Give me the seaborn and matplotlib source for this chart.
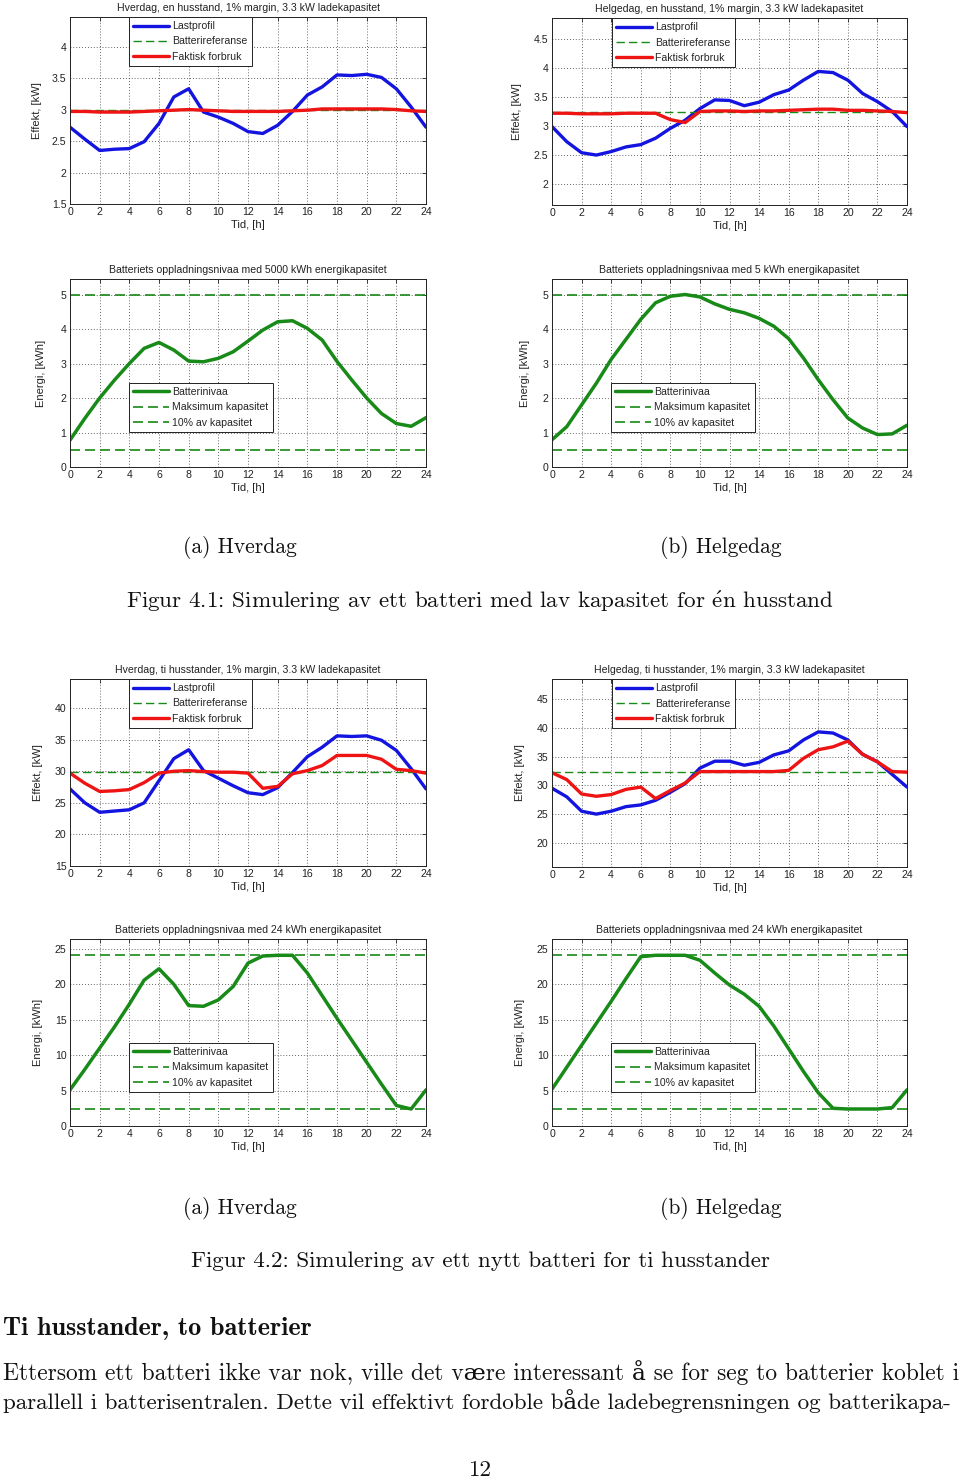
import matplotlib
matplotlib.use("Agg")
import matplotlib.pyplot as plt
import seaborn as sns
import pandas as pd
from matplotlib.ticker import FormatStrFormatter, MultipleLocator

# ---------------- data ----------------
hours = list(range(25))

# Fig 4.1 (a) Hverdag, en husstand
p1_last = [2.72, 2.53, 2.35, 2.37, 2.38, 2.49, 2.78, 3.20, 3.33, 2.96, 2.88, 2.78, 2.65,
           2.62, 2.75, 2.97, 3.23, 3.36, 3.55, 3.54, 3.56, 3.51, 3.33, 3.04, 2.72]
p1_fakt = [2.97, 2.97, 2.96, 2.96, 2.96, 2.97, 2.98, 2.99, 3.00, 2.99, 2.98, 2.97, 2.97,
           2.97, 2.97, 2.98, 2.99, 3.01, 3.01, 3.01, 3.01, 3.01, 3.00, 2.98, 2.97]
p1_ref = 2.99

# Fig 4.1 (b) Helgedag, en husstand
p2_last = [2.99, 2.73, 2.54, 2.50, 2.56, 2.64, 2.68, 2.79, 2.96, 3.10, 3.30, 3.45, 3.44,
           3.35, 3.41, 3.54, 3.62, 3.79, 3.94, 3.92, 3.79, 3.56, 3.42, 3.25, 2.99]
p2_fakt = [3.22, 3.22, 3.21, 3.21, 3.21, 3.22, 3.22, 3.22, 3.11, 3.06, 3.25, 3.26, 3.26,
           3.25, 3.26, 3.26, 3.27, 3.28, 3.29, 3.29, 3.27, 3.27, 3.26, 3.25, 3.23]
p2_ref = 3.24

# Fig 4.1 energy (a) and (b)
p3_level = [0.78, 1.41, 2.00, 2.52, 3.00, 3.44, 3.61, 3.39, 3.07, 3.05, 3.15, 3.34, 3.65,
            3.97, 4.21, 4.24, 4.02, 3.68, 3.06, 2.52, 2.00, 1.55, 1.26, 1.18, 1.43]
p4_level = [0.79, 1.17, 1.80, 2.43, 3.12, 3.70, 4.28, 4.76, 4.95, 5.00, 4.93, 4.73, 4.57,
            4.47, 4.31, 4.08, 3.72, 3.16, 2.53, 1.95, 1.42, 1.13, 0.94, 0.96, 1.21]
cap_small = 5.0
low_small = 0.5

# Fig 4.2 (a) Hverdag, ti husstander
p5_last = [27.2, 25.0, 23.5, 23.7, 23.9, 25.0, 28.5, 32.0, 33.4, 30.1, 28.9, 27.7, 26.6,
           26.3, 27.4, 29.8, 32.3, 33.8, 35.6, 35.5, 35.6, 34.9, 33.3, 30.4, 27.2]
p5_fakt = [29.7, 28.1, 26.8, 26.9, 27.1, 28.2, 29.7, 30.0, 30.1, 29.95, 29.85, 29.85, 29.7,
           27.3, 27.6, 29.6, 30.1, 30.9, 32.5, 32.5, 32.5, 31.9, 30.3, 30.1, 29.7]
p5_ref = 29.85

# Fig 4.2 (b) Helgedag, ti husstander
p6_last = [29.5, 28.0, 25.5, 25.0, 25.5, 26.3, 26.6, 27.4, 28.8, 30.3, 33.0, 34.2, 34.2,
           33.5, 34.0, 35.3, 36.0, 37.9, 39.3, 39.1, 37.9, 35.4, 34.1, 31.9, 29.7]
p6_fakt = [32.2, 31.0, 28.5, 28.1, 28.4, 29.3, 29.7, 27.7, 29.1, 30.4, 32.4, 32.4, 32.4,
           32.4, 32.4, 32.4, 32.6, 34.7, 36.2, 36.7, 37.7, 35.4, 34.1, 32.4, 32.3]
p6_ref = 32.3

# Fig 4.2 energy (a) and (b)
p7_level = [5.1, 8.0, 11.0, 14.0, 17.2, 20.6, 22.2, 20.0, 17.0, 16.9, 17.8, 19.7, 23.0,
            24.0, 24.1, 24.1, 21.6, 18.4, 15.2, 12.1, 9.0, 5.9, 2.9, 2.4, 5.1]
p8_level = [5.2, 8.3, 11.4, 14.5, 17.6, 20.8, 23.9, 24.1, 24.1, 24.1, 23.4, 21.6, 19.9,
            18.6, 16.9, 14.1, 10.9, 7.7, 4.7, 2.5, 2.4, 2.4, 2.4, 2.6, 5.1]
cap_big = 24.1
low_big = 2.4

x_ticks = list(range(0, 25, 2))

titles = [
    "Hverdag, en husstand, 1% margin, 3.3 kW ladekapasitet",
    "Helgedag, en husstand, 1% margin, 3.3 kW ladekapasitet",
    "Batteriets oppladningsnivaa med 5000 kWh energikapasitet",
    "Batteriets oppladningsnivaa med 5 kWh energikapasitet",
    "Hverdag, ti husstander, 1% margin, 3.3 kW ladekapasitet",
    "Helgedag, ti husstander, 1% margin, 3.3 kW ladekapasitet",
    "Batteriets oppladningsnivaa med 24 kWh energikapasitet",
    "Batteriets oppladningsnivaa med 24 kWh energikapasitet",
]
power_labels = ["Lastprofil", "Batterireferanse", "Faktisk forbruk"]
energy_labels = ["Batterinivaa", "Maksimum kapasitet", "10% av kapasitet"]

# ---------------- style ----------------
sns.set_style("white")
plt.rcParams["font.family"] = ["Liberation Sans", "DejaVu Sans"]
plt.rcParams["mathtext.fontset"] = "cm"

W, H = 960, 1482
fig = plt.figure(figsize=(W / 100, H / 100), dpi=100)

BLUE = "#1414e0"
RED = "#ee1414"
GREEN = "#178a17"
FS = 7.6
LFS = 8.0


def add_ax(l, t, r, b):
    return fig.add_axes([l / W, 1 - b / H, (r - l) / W, (b - t) / H])


def style_ax(ax, title, ylabel, ylim, ystep, ylab_x):
    ax.set_xlim(0, 24)
    ax.set_ylim(*ylim)
    ax.set_xticks(x_ticks)
    ax.yaxis.set_major_locator(MultipleLocator(ystep))
    ax.yaxis.set_major_formatter(FormatStrFormatter("%g"))
    ax.grid(True, linestyle=(0, (1, 2.5)), color="#333333", linewidth=0.6)
    ax.tick_params(direction="in", length=3, width=0.6, labelsize=FS, pad=2.5,
                   top=True, right=True, colors="#222222")
    for s in ax.spines.values():
        s.set_color("#222222")
        s.set_linewidth(0.7)
        s.set_visible(True)
    ax.set_title(title, fontsize=FS, pad=4, color="#222222")
    ax.set_xlabel("Tid, [h]", fontsize=LFS, labelpad=1.5, color="#222222")
    ax.set_ylabel(ylabel, fontsize=LFS, color="#222222")
    ax.yaxis.set_label_coords(ylab_x, 0.5)


def legend(ax, anchor):
    leg = ax.legend(loc="upper left", bbox_to_anchor=anchor, borderaxespad=0,
                    fontsize=FS, handlelength=3.4, handletextpad=0.3,
                    labelspacing=0.5, borderpad=0.4, fancybox=False,
                    framealpha=1, edgecolor="#222222")
    leg.get_frame().set_linewidth(0.7)


def power_plot(ax, last, fakt, ref):
    df = pd.DataFrame({"t": hours, "last": last, "fakt": fakt})
    sns.lineplot(data=df, x="t", y="last", ax=ax, color=BLUE, linewidth=2.4,
                 label=power_labels[0])
    ax.axhline(ref, color=GREEN, linestyle=(0, (6, 3)), linewidth=1.0,
               label=power_labels[1])
    sns.lineplot(data=df, x="t", y="fakt", ax=ax, color=RED, linewidth=2.4,
                 label=power_labels[2])


def energy_plot(ax, level, cap, low):
    df = pd.DataFrame({"t": hours, "level": level})
    sns.lineplot(data=df, x="t", y="level", ax=ax, color=GREEN, linewidth=2.5,
                 label=energy_labels[0])
    ax.axhline(cap, color=GREEN, linestyle=(0, (6, 3)), linewidth=1.2,
               label=energy_labels[1])
    ax.axhline(low, color=GREEN, linestyle=(0, (6, 3)), linewidth=1.2,
               label=energy_labels[2])


# panel 1
ax = add_ax(70, 17, 426, 204)
power_plot(ax, p1_last, p1_fakt, p1_ref)
style_ax(ax, titles[0], "Effekt, [kW]", (1.5, 4.47), 0.5, -0.08)
legend(ax, (0.166, 1.0))

# panel 2
ax = add_ax(552, 18, 907, 205)
power_plot(ax, p2_last, p2_fakt, p2_ref)
style_ax(ax, titles[1], "Effekt, [kW]", (1.64, 4.86), 0.5, -0.085)
legend(ax, (0.169, 1.0))

# panel 3
ax = add_ax(70, 279, 426, 467)
energy_plot(ax, p3_level, cap_small, low_small)
style_ax(ax, titles[2], "Energi, [kWh]", (0, 5.45), 1, -0.067)
legend(ax, (0.166, 0.447))

# panel 4
ax = add_ax(552, 279, 907, 467)
energy_plot(ax, p4_level, cap_small, low_small)
style_ax(ax, titles[3], "Energi, [kWh]", (0, 5.45), 1, -0.062)
legend(ax, (0.166, 0.447))

# panel 5
ax = add_ax(70, 679, 426, 866)
power_plot(ax, p5_last, p5_fakt, p5_ref)
style_ax(ax, titles[4], "Effekt, [kW]", (15, 44.6), 5, -0.076)
legend(ax, (0.166, 1.0))

# panel 6
ax = add_ax(552, 679, 907, 867)
power_plot(ax, p6_last, p6_fakt, p6_ref)
style_ax(ax, titles[5], "Effekt, [kW]", (15.8, 48.5), 5, -0.076)
legend(ax, (0.169, 1.0))

# panel 7
ax = add_ax(70, 939, 426, 1126)
energy_plot(ax, p7_level, cap_big, low_big)
style_ax(ax, titles[6], "Energi, [kWh]", (0, 26.4), 5, -0.076)
legend(ax, (0.166, 0.444))

# panel 8
ax = add_ax(552, 939, 907, 1126)
energy_plot(ax, p8_level, cap_big, low_big)
style_ax(ax, titles[7], "Energi, [kWh]", (0, 26.4), 5, -0.076)
legend(ax, (0.166, 0.444))

# ---------------- page text ----------------
SERIF = ["cmr10", "DejaVu Serif"]
BOLD = ["cmb10", "DejaVu Serif"]
TS = 16.6


def ptext(x, y, s, ha="center", fam=SERIF, size=TS, **kw):
    fig.text(x / W, 1 - y / H, s, ha=ha, va="center", family=fam, fontsize=size,
             color="#111111", **kw)


ptext(240, 548, "(a) Hverdag", size=15.5)
ptext(721, 548, "(b) Helgedag", size=15.5)
ptext(480, 601, "Figur 4.1: Simulering av ett batteri med lav kapasitet for $\\mathrm{\\acute{e}}$n husstand")
ptext(240, 1208, "(a) Hverdag", size=15.5)
ptext(721, 1208, "(b) Helgedag", size=15.5)
ptext(480, 1261, "Figur 4.2: Simulering av ett nytt batteri for ti husstander")
ptext(3, 1328, "Ti husstander, to batterier", ha="left", fam=BOLD, size=18.8)
ptext(3, 1373, "Ettersom ett batteri ikke var nok, ville det være interessant å se for seg to batterier koblet i",
      ha="left", size=16.9)
ptext(3, 1401, "parallell i batterisentralen. Dette vil effektivt fordoble både ladebegrensningen og batterikapa-",
      ha="left")
ptext(480, 1470, "12")

fig.savefig("out.png", dpi=100)
